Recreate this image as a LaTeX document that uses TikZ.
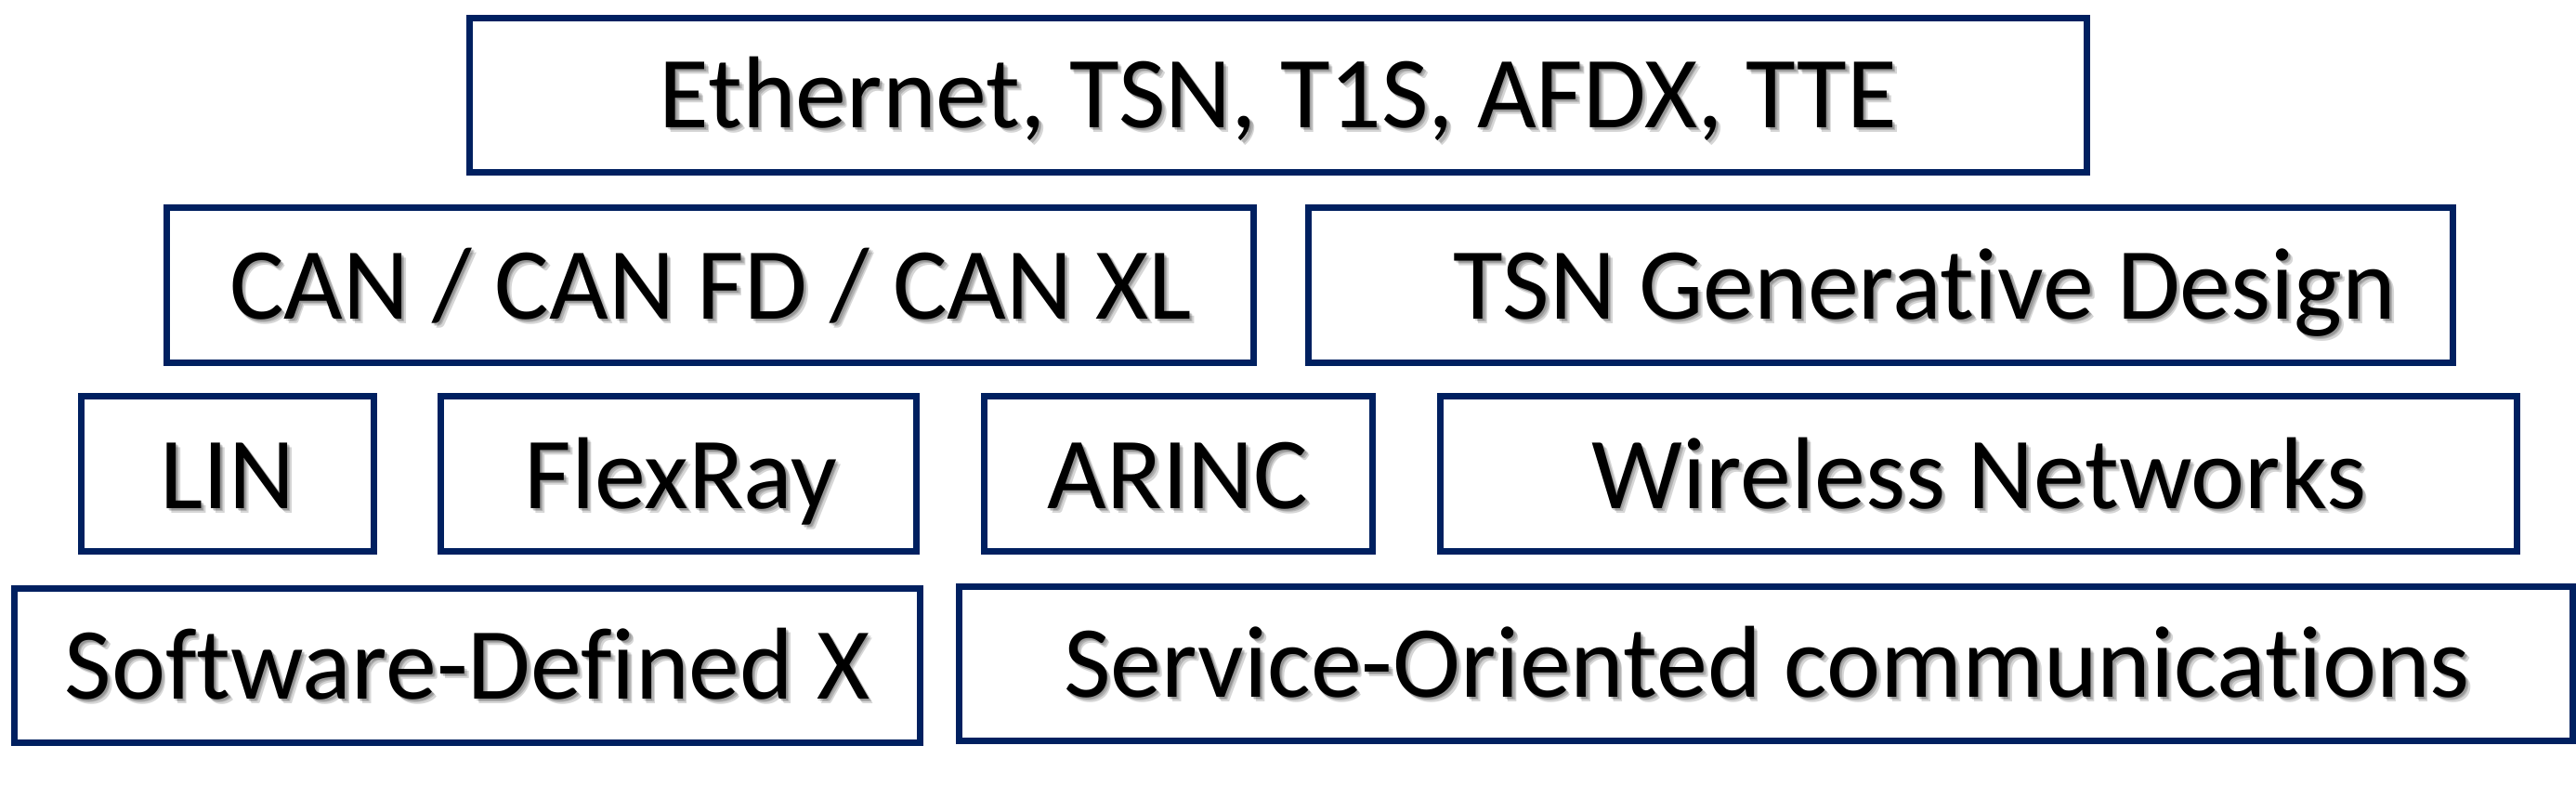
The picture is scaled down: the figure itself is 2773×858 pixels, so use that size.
\documentclass[tikz,border=0pt]{standalone}
\usepackage{fontspec}
\setmainfont{Carlito}[Ligatures=NoCommon]
\definecolor{navy}{RGB}{0,32,96}
\tikzset{
  box/.style={draw=navy, line width=3.5pt, fill=white, inner sep=0pt, rectangle},
  lbl/.style={anchor=base, inner sep=0pt, text=black, font=\fontsize{55}{66}\selectfont},
  shd/.style={lbl, text=black, text opacity=0.16},
}
\newcommand\boxlabel[3]{%
  \node[shd, xshift=0.8pt, yshift=-1.0pt] (#1a) at (#2) {#3};
  \node[shd, xshift=1.6pt, yshift=-1.9pt] (#1b) at (#2) {#3};
  \node[shd, xshift=2.4pt, yshift=-2.8pt] (#1c) at (#2) {#3};
  \node[lbl] (#1) at (#2) {#3};}
\begin{document}
\begin{tikzpicture}[x=0.5pt, y=-0.5pt]
\useasboundingbox[fill=white] (0,0) rectangle (2773,858);
% row 1
\node[box, minimum width=1741*0.5pt, minimum height=166*0.5pt] (eth) at (1376,102.5) {};
% row 2
\node[box, minimum width=1170*0.5pt, minimum height=167*0.5pt] (can) at (764.5,307) {};
\node[box, minimum width=1232*0.5pt, minimum height=167*0.5pt] (tsn) at (2024.5,307) {};
% row 3
\node[box, minimum width=315*0.5pt, minimum height=167*0.5pt] (lin) at (245,510) {};
\node[box, minimum width=512*0.5pt, minimum height=167*0.5pt] (flex) at (730.5,510) {};
\node[box, minimum width=418*0.5pt, minimum height=167*0.5pt] (arinc) at (1268.5,510) {};
\node[box, minimum width=1159*0.5pt, minimum height=167*0.5pt] (wless) at (2130,510) {};
% row 4
\node[box, minimum width=975*0.5pt, minimum height=166*0.5pt] (sdx) at (503,716.5) {};
\node[box, minimum width=1737*0.5pt, minimum height=166*0.5pt] (soc) at (1901,714.5) {};
% labels
\boxlabel{ethT}{1376,137}{Ethernet, TSN, T1S, AFDX, TTE}
\boxlabel{canT}{765,343}{CAN / CAN FD / CAN XL}
\boxlabel{tsnT}{2072,343}{TSN Generative Design}
\boxlabel{linT}{245,547}{LIN}
\boxlabel{flexT}{733,547}{FlexRay}
\boxlabel{arincT}{1268,547}{ARINC}
\boxlabel{wlessT}{2130,547}{Wireless Networks}
\boxlabel{sdxT}{503,752}{Software-Defined X}
\boxlabel{socT}{1902,750}{Service-Oriented communications}
\end{tikzpicture}
\end{document}
